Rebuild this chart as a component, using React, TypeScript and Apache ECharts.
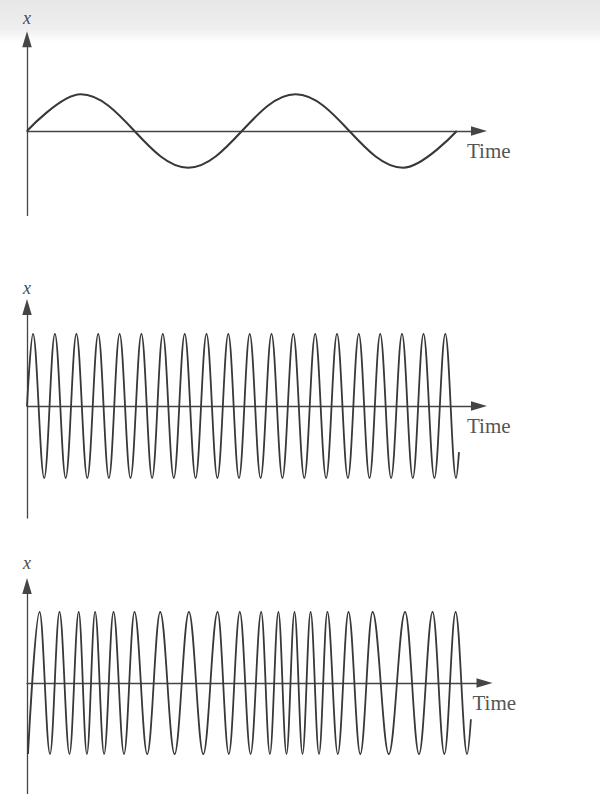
import { useEffect, useRef } from 'react';
import * as echarts from 'echarts';

// ---- Data (time in drawing units, displacement in amplitude units) ----
// Panel 1: slow oscillation, extrema + start/end
const wave1Times = [0, 53.7, 161.2, 268.6, 376.1, 429.8];
const wave1Values = [0, 1, -1, 1, -1, 0];

// Panel 2: fast oscillation, extrema + start/end
const wave2Times = [
  0, 6.0, 17.2, 27.9, 38.7, 49.4, 60.3, 71.2, 81.9, 92.6, 103.5, 114.4, 125.1,
  135.8, 146.8, 157.7, 168.6, 179.5, 190.4, 201.3, 212.0, 222.7, 233.6, 244.5,
  255.4, 266.3, 277.3, 288.2, 299.1, 310.0, 320.9, 331.8, 342.5, 353.2, 364.1,
  375.0, 385.8, 396.5, 407.4, 418.3, 429.0, 432.0,
];
const wave2Values = [
  0, 1, -1, 1, -1, 1, -1, 1, -1, 1, -1, 1, -1, 1, -1, 1, -1, 1, -1, 1, -1, 1,
  -1, 1, -1, 1, -1, 1, -1, 1, -1, 1, -1, 1, -1, 1, -1, 1, -1, 1, -1, -0.64,
];

// Panel 3: frequency-modulated oscillation, extrema + end
const wave3Times = [
  1.0, 12.6, 23.0, 32.5, 42.5, 51.7, 59.9, 68.1, 77.1, 86.5, 97.0, 107.5, 120.2,
  133.2, 147.6, 161.9, 176.3, 190.6, 201.8, 212.8, 223.6, 234.2, 242.9, 251.4,
  259.5, 267.5, 275.5, 283.6, 292.0, 300.4, 310.8, 321.5, 333.3, 345.6, 361.8,
  378.1, 392.0, 405.6, 417.4, 428.6, 440.1, 443.9,
];
const wave3Values = [
  -1, 1, -1, 1, -1, 1, -1, 1, -1, 1, -1, 1, -1, 1, -1, 1, -1, 1, -1, 1, -1, 1,
  -1, 1, -1, 1, -1, 1, -1, 1, -1, 1, -1, 1, -1, 1, -1, 1, -1, 1, -1, -0.51,
];

const timeMax = [452, 452, 457.5];
const yAxisName = 'x';
const xAxisName = 'Time';

// ---- Layout / style ----
const layout = [
  { left: 27, centerY: 131, amp: 36.7, yMax: 2.5, yMin: -2.3, nameGap: 12, width: 2.1 },
  { left: 27, centerY: 406, amp: 72, yMax: 1.375, yMin: -1.556, nameGap: 10, width: 1.8 },
  { left: 27, centerY: 683, amp: 71, yMax: 1.366, yMin: -1.56, nameGap: 14, width: 1.8 },
];
const waves = [
  [wave1Times, wave1Values],
  [wave2Times, wave2Values],
  [wave3Times, wave3Values],
];
const curveColor = '#383838';
const axisColor = '#454545';
const textColor = '#555555';
const serif = "'Liberation Serif', 'DejaVu Serif', serif";

export default function App() {
  const ref = useRef<HTMLDivElement>(null);

  useEffect(() => {
    if (!ref.current) return;
    const chart = echarts.init(ref.current, undefined, { renderer: 'svg' });

    const grid = layout.map((p, i) => ({
      left: p.left,
      top: p.centerY - p.yMax * p.amp,
      width: timeMax[i],
      height: (p.yMax - p.yMin) * p.amp,
    }));

    const xAxis = layout.map((p, i) => ({
      gridIndex: i,
      type: 'value',
      min: 0,
      max: timeMax[i],
      axisLine: {
        show: true,
        onZero: true,
        symbol: ['none', 'triangle'],
        symbolSize: [9.5, 16],
        lineStyle: { color: axisColor, width: 1.3 },
      },
      axisTick: { show: false },
      axisLabel: { show: false },
      splitLine: { show: false },
      name: xAxisName,
      nameLocation: 'end',
      nameGap: -12,
      nameTextStyle: {
        fontFamily: serif,
        fontSize: 21,
        color: textColor,
        verticalAlign: 'top',
        lineHeight: 39,
      },
    }));

    const yAxis = layout.map((p, i) => ({
      gridIndex: i,
      type: 'value',
      min: p.yMin,
      max: p.yMax,
      axisLine: {
        show: true,
        onZero: true,
        symbol: ['none', 'triangle'],
        symbolSize: [9.5, 16],
        lineStyle: { color: axisColor, width: 1.3 },
      },
      axisTick: { show: false },
      axisLabel: { show: false },
      splitLine: { show: false },
      name: yAxisName,
      nameLocation: 'end',
      nameGap: p.nameGap,
      nameTextStyle: {
        fontFamily: serif,
        fontStyle: 'italic',
        fontSize: 18,
        color: '#4a4a4a',
      },
    }));

    const series = waves.map(([times, values], i) => ({
      type: 'line',
      xAxisIndex: i,
      yAxisIndex: i,
      data: times.map((t, k) => [t, values[k]]),
      smooth: 0.363,
      smoothMonotone: 'x',
      showSymbol: false,
      symbol: 'none',
      silent: true,
      lineStyle: { color: curveColor, width: layout[i].width },
    }));

    chart.setOption({
      animation: false,
      backgroundColor: '#ffffff',
      grid,
      xAxis,
      yAxis,
      series,
      graphic: [
        {
          type: 'rect',
          z: -10,
          silent: true,
          shape: { x: 0, y: 0, width: 600, height: 42 },
          style: {
            fill: new echarts.graphic.LinearGradient(0, 0, 0, 1, [
              { offset: 0, color: '#e7e7e7' },
              { offset: 0.7, color: '#efefef' },
              { offset: 1, color: '#ffffff' },
            ]),
          },
        },
      ],
    });

    return () => chart.dispose();
  }, []);

  return (
    <div
      ref={ref}
      style={{ position: 'absolute', left: 0, top: 0, width: 600, height: 794 }}
    />
  );
}
